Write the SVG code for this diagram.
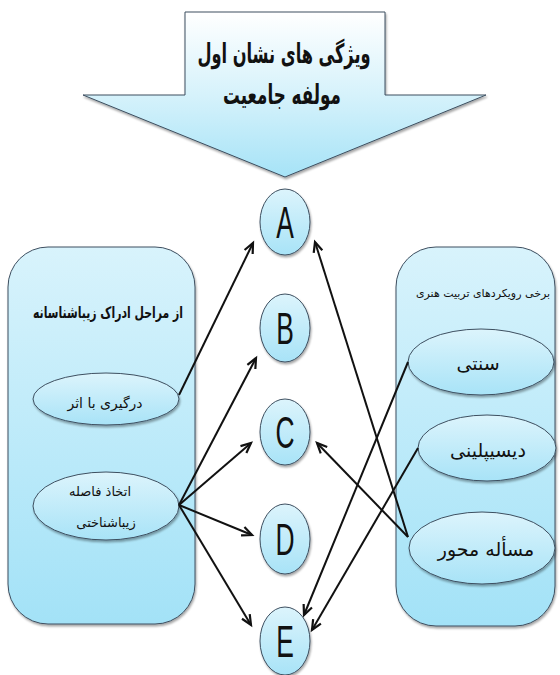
<svg xmlns="http://www.w3.org/2000/svg" width="560" height="675" viewBox="0 0 560 675">
<defs>
<linearGradient id="gArrow" x1="0" y1="0" x2="0" y2="1">
<stop offset="0" stop-color="#ffffff"/>
<stop offset="0.5" stop-color="#d6f2fb"/>
<stop offset="1" stop-color="#a6e3f7"/>
</linearGradient>
<linearGradient id="gPanel" x1="0" y1="0" x2="0" y2="1">
<stop offset="0" stop-color="#d8f3fc"/>
<stop offset="1" stop-color="#a3e2f7"/>
</linearGradient>
<linearGradient id="gNode" x1="0" y1="0" x2="0" y2="1">
<stop offset="0" stop-color="#dcf4fc"/>
<stop offset="1" stop-color="#a8e3f7"/>
</linearGradient>
<filter id="sh" x="-20%" y="-20%" width="140%" height="140%">
<feDropShadow dx="1" dy="2" stdDeviation="1.2" flood-color="#000" flood-opacity="0.35"/>
</filter>
<marker id="arr" markerUnits="userSpaceOnUse" markerWidth="14" markerHeight="12" refX="11" refY="5" orient="auto" overflow="visible">
<path d="M1,0.5 L11,5 L1,9.5" fill="none" stroke="#111" stroke-width="2.2" stroke-linejoin="miter"/>
</marker>
<style>
.panel{fill:url(#gPanel);stroke:#3d4f60;stroke-width:1;filter:url(#sh)}
.node{fill:url(#gNode);stroke:#3d4f60;stroke-width:1;filter:url(#sh)}
.fa{font-family:"DejaVu Sans",sans-serif;fill:#111;text-anchor:middle}
.let{font-family:"Liberation Sans","DejaVu Sans",sans-serif;font-size:44px;fill:#111;text-anchor:middle}
.con line{stroke:#111;stroke-width:2;marker-end:url(#arr)}
</style>
</defs>
<rect width="560" height="675" fill="#ffffff"/>

<g id="title-arrow">
<path d="M185,12 H385 V95 H486 L285,177 L83,95 H185 Z" fill="url(#gArrow)" stroke="#3d4f60" stroke-width="1" filter="url(#sh)"/>
<text class="fa" font-size="27" font-weight="bold" transform="translate(284,63) scale(0.6,1)">ویژگی های نشان اول</text>
<text class="fa" font-size="27" font-weight="bold" transform="translate(282,104) scale(0.62,1)">مولفه جامعیت</text>
</g>

<g id="left-panel">
<rect class="panel" x="8" y="247" width="187" height="377" rx="40" ry="40"/>
<text class="fa" font-size="16" font-weight="bold" transform="translate(108,318) scale(0.68,1)">از مراحل ادراک زیباشناسانه</text>
</g>
<g id="node-dargiri">
<ellipse class="node" cx="106" cy="399" rx="73" ry="26"/>
<text class="fa" x="105" y="408" font-size="14">درگیری با اثر</text>
</g>
<g id="node-ettekhaz">
<ellipse class="node" cx="106" cy="506" rx="73" ry="34"/>
<text class="fa" x="100" y="496" font-size="13">اتخاذ فاصله</text>
<text class="fa" x="106" y="527" font-size="13">زیباشناختی</text>
</g>

<g id="right-panel">
<rect class="panel" x="396" y="247" width="159" height="379" rx="40" ry="40"/>
<text class="fa" x="483" y="297" font-size="11">برخی رویکردهای تربیت هنری</text>
</g>
<g id="node-sonnati">
<ellipse class="node" cx="481" cy="362" rx="73" ry="33"/>
<text class="fa" x="478" y="370" font-size="19">سنتی</text>
</g>
<g id="node-discipline">
<ellipse class="node" cx="487" cy="448" rx="69" ry="33"/>
<text class="fa" x="488" y="457" font-size="19">دیسیپلینی</text>
</g>
<g id="node-masale">
<ellipse class="node" cx="482" cy="548" rx="73" ry="36"/>
<text class="fa" x="486" y="556" font-size="19">مسأله محور</text>
</g>

<g id="node-A">
<ellipse class="node" cx="285" cy="222" rx="25" ry="33"/>
<text class="let" transform="translate(285,238) scale(0.6,1)">A</text>
</g>
<g id="node-B">
<ellipse class="node" cx="285" cy="328" rx="25" ry="34"/>
<text class="let" transform="translate(285,344) scale(0.6,1)">B</text>
</g>
<g id="node-C">
<ellipse class="node" cx="285" cy="432" rx="25" ry="33"/>
<text class="let" transform="translate(285,448) scale(0.6,1)">C</text>
</g>
<g id="node-D">
<ellipse class="node" cx="285" cy="539" rx="25" ry="35"/>
<text class="let" transform="translate(285,555) scale(0.6,1)">D</text>
</g>
<g id="node-E">
<ellipse class="node" cx="285" cy="641" rx="25" ry="34"/>
<text class="let" transform="translate(285,657) scale(0.6,1)">E</text>
</g>

<g id="connectors" class="con">
<line x1="179" y1="395" x2="253" y2="243"/>
<line x1="179" y1="505" x2="256" y2="358"/>
<line x1="179" y1="505" x2="251" y2="443"/>
<line x1="179" y1="505" x2="252" y2="535"/>
<line x1="179" y1="505" x2="251" y2="625"/>
<line x1="408" y1="537" x2="315" y2="242"/>
<line x1="408" y1="537" x2="317" y2="443"/>
<line x1="408" y1="362" x2="304" y2="615"/>
<line x1="418" y1="448" x2="312" y2="630"/>
</g>
</svg>
